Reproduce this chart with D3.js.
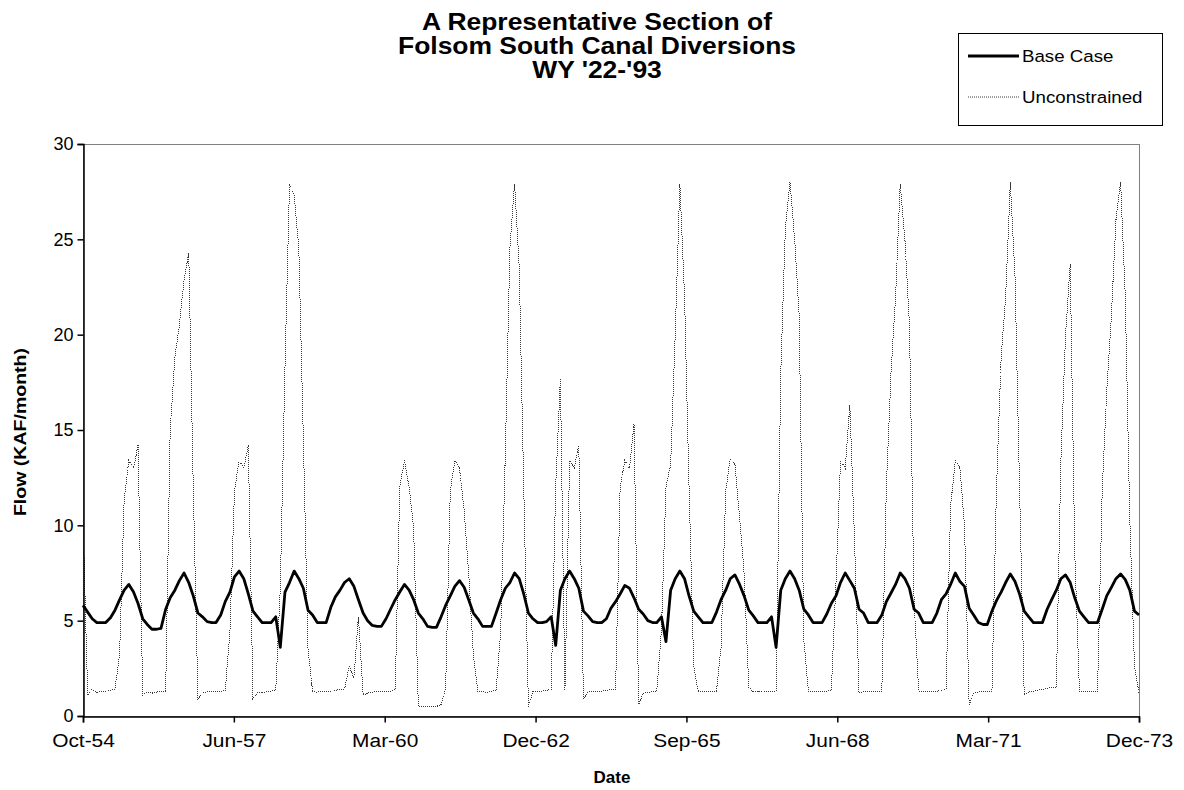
<!DOCTYPE html>
<html>
<head>
<meta charset="utf-8">
<script src="https://cdn.jsdelivr.net/npm/d3@7"></script>
<style>
  body { margin: 0; background: #fff; }
  svg { display: block; }
  text { font-family: "Liberation Sans", Arial, sans-serif; fill: #000; }
</style>
</head>
<body>
<svg id="chart" width="1184" height="790"></svg>
<script>
// Monthly series, Oct-54 through Dec-73 (one row per water year, Oct..Sep)
const firstMonth = new Date(1954, 9, 1);
const lastMonth = new Date(1973, 11, 1);

const baseCase = [
  5.8, 5.45, 5.1, 4.9, 4.9, 4.9, 5.15, 5.55, 6.1, 6.6, 6.9, 6.5,    // WY55
  5.9, 5.1, 4.8, 4.55, 4.55, 4.6, 5.6, 6.2, 6.6, 7.1, 7.5, 7.0,     // WY56
  6.3, 5.4, 5.2, 4.95, 4.9, 4.9, 5.3, 6.0, 6.5, 7.3, 7.6, 7.2,      // WY57
  6.4, 5.5, 5.2, 4.9, 4.9, 4.9, 5.2, 3.6, 6.5, 7.0, 7.6, 7.2,       // WY58
  6.7, 5.55, 5.3, 4.9, 4.9, 4.9, 5.7, 6.25, 6.6, 7.0, 7.2, 6.8,     // WY59
  6.1, 5.4, 5.0, 4.75, 4.7, 4.7, 5.1, 5.6, 6.1, 6.5, 6.9, 6.6,      // WY60
  6.1, 5.4, 5.1, 4.7, 4.65, 4.65, 5.2, 5.8, 6.3, 6.8, 7.1, 6.75,    // WY61
  6.1, 5.4, 5.1, 4.7, 4.7, 4.7, 5.4, 6.1, 6.7, 7.0, 7.5, 7.2,       // WY62
  6.4, 5.4, 5.1, 4.9, 4.9, 4.95, 5.2, 3.7, 6.6, 7.2, 7.6, 7.2,      // WY63
  6.7, 5.5, 5.25, 4.95, 4.9, 4.9, 5.1, 5.65, 6.0, 6.4, 6.85, 6.7,   // WY64
  6.2, 5.6, 5.35, 5.0, 4.9, 4.9, 5.2, 3.9, 6.6, 7.2, 7.6, 7.2,      // WY65
  6.3, 5.5, 5.2, 4.9, 4.9, 4.9, 5.45, 6.1, 6.6, 7.2, 7.4, 6.9,      // WY66
  6.3, 5.55, 5.25, 4.9, 4.9, 4.9, 5.2, 3.6, 6.6, 7.2, 7.6, 7.2,     // WY67
  6.6, 5.6, 5.3, 4.9, 4.9, 4.9, 5.35, 5.9, 6.3, 7.0, 7.5, 7.1,      // WY68
  6.7, 5.6, 5.4, 4.9, 4.9, 4.9, 5.3, 6.0, 6.45, 6.9, 7.5, 7.2,      // WY69
  6.7, 5.6, 5.4, 4.9, 4.9, 4.9, 5.4, 6.1, 6.4, 6.9, 7.5, 7.05,      // WY70
  6.8, 5.65, 5.3, 4.9, 4.8, 4.8, 5.5, 6.05, 6.5, 7.0, 7.45, 7.05,   // WY71
  6.4, 5.5, 5.2, 4.9, 4.9, 4.9, 5.6, 6.1, 6.6, 7.2, 7.4, 7.0,       // WY72
  6.2, 5.5, 5.2, 4.9, 4.9, 4.9, 5.6, 6.3, 6.75, 7.2, 7.45, 7.15,    // WY73
  6.6, 5.5, 5.3                                                    // WY74 (Oct-Dec)
];

const unconstrained = [
  10.3, 1.1, 1.4, 1.25, 1.3, 1.3, 1.35, 1.4, 3.3, 11.4, 13.4, 13.0,     // WY55
  14.2, 1.1, 1.25, 1.2, 1.25, 1.3, 1.3, 15.0, 18.8, 20.5, 22.9, 24.3,   // WY56
  12.0, 0.9, 1.2, 1.27, 1.3, 1.3, 1.3, 1.35, 4.4, 11.8, 13.4, 13.0,     // WY57
  14.2, 0.9, 1.25, 1.2, 1.3, 1.3, 1.35, 6.7, 18.3, 27.9, 27.3, 24.5,    // WY58
  14.5, 3.5, 1.3, 1.25, 1.3, 1.3, 1.3, 1.35, 1.4, 1.4, 2.6, 2.0,        // WY59
  5.2, 1.1, 1.2, 1.25, 1.3, 1.3, 1.3, 1.3, 1.4, 12.0, 13.4, 12.0,       // WY60
  9.9, 0.5, 0.5, 0.5, 0.5, 0.5, 0.6, 1.4, 11.8, 13.4, 13.0, 10.8,       // WY61
  7.5, 3.2, 1.27, 1.27, 1.25, 1.3, 1.35, 4.4, 13.8, 24.5, 27.9, 23.5,   // WY62
  12.0, 0.5, 1.27, 1.3, 1.3, 1.35, 1.4, 12.1, 17.7, 1.3, 13.4, 13.0,    // WY63
  14.2, 0.9, 1.25, 1.3, 1.3, 1.3, 1.35, 1.4, 1.4, 12.0, 13.4, 13.0,     // WY64
  15.3, 0.6, 1.2, 1.25, 1.27, 1.3, 4.5, 12.0, 13.2, 20.0, 27.9, 22.0,   // WY65
  12.0, 2.6, 1.27, 1.27, 1.3, 1.3, 1.3, 3.6, 11.8, 13.5, 13.2, 10.4,    // WY66
  7.5, 1.5, 1.27, 1.27, 1.3, 1.3, 1.3, 1.3, 18.0, 25.5, 28.0, 25.0,     // WY67
  21.0, 4.0, 1.3, 1.27, 1.27, 1.3, 1.3, 1.35, 7.0, 13.4, 13.0, 16.3,    // WY68
  9.5, 1.2, 1.27, 1.27, 1.3, 1.3, 1.3, 12.0, 18.0, 22.0, 27.9, 25.0,    // WY69
  20.5, 6.0, 1.3, 1.27, 1.27, 1.3, 1.3, 1.35, 1.4, 11.0, 13.4, 13.0,    // WY70
  10.0, 0.6, 1.2, 1.27, 1.27, 1.3, 1.3, 11.9, 18.8, 22.0, 28.0, 23.0,   // WY71
  12.0, 1.1, 1.27, 1.3, 1.35, 1.4, 1.45, 1.5, 1.5, 13.4, 20.0, 23.7,    // WY72
  8.6, 1.3, 1.27, 1.27, 1.3, 1.3, 11.8, 17.0, 21.0, 26.0, 28.0, 22.0,   // WY73
  10.3, 2.6, 1.2                                                        // WY74 (Oct-Dec)
];

const seriesNames = ["Base Case", "Unconstrained"];
const yTicks = [0, 5, 10, 15, 20, 25, 30];
const xTickLabels = ["Oct-54", "Jun-57", "Mar-60", "Dec-62", "Sep-65", "Jun-68", "Mar-71", "Dec-73"];
const titleLines = ["A Representative Section of", "Folsom South Canal Diversions", "WY '22-'93"];
const yAxisTitle = "Flow (KAF/month)";
const xAxisTitle = "Date";

const months = d3.timeMonth.range(firstMonth, d3.timeMonth.offset(lastMonth, 1));

const svg = d3.select("#chart");
svg.append("rect").attr("width", 1184).attr("height", 790).attr("fill", "#fff");

const plot = { left: 83, right: 1139, top: 144, bottom: 716 };

const x = d3.scaleTime().domain([firstMonth, lastMonth]).range([plot.left, plot.right]);
const y = d3.scaleLinear().domain([0, 30]).range([plot.bottom, plot.top]);

// plot-area frame
svg.append("rect")
  .attr("x", plot.left + 0.5).attr("y", plot.top + 0.5)
  .attr("width", plot.right - plot.left).attr("height", plot.bottom - plot.top)
  .attr("fill", "none").attr("stroke", "#808080").attr("stroke-width", 1);

// series
const line = d3.line()
  .x((d, i) => x(months[i]))
  .y(d => y(d));

const g = svg.append("g");
g.append("path")
  .datum(unconstrained)
  .attr("d", line)
  .attr("fill", "none")
  .attr("stroke", "#3a3a3a")
  .attr("stroke-width", 1)
  .attr("stroke-dasharray", "1,1")
  .attr("shape-rendering", "crispEdges");

g.append("path")
  .datum(baseCase)
  .attr("d", line)
  .attr("fill", "none")
  .attr("stroke", "#000")
  .attr("stroke-width", 2.8)
  .attr("stroke-linejoin", "round");

// y axis
const yAxis = d3.axisLeft(y).tickValues(yTicks).tickSize(6).tickPadding(4);
const ya = svg.append("g").attr("transform", `translate(${plot.left + 0.5},0)`).call(yAxis);
ya.select(".domain").attr("stroke", "#000").attr("stroke-width", 1.5);
ya.selectAll(".tick line").attr("stroke", "#000").attr("stroke-width", 1.5);
ya.selectAll(".tick text")
  .style("font-size", "18px")
  .style("font-family", "Liberation Sans, Arial, sans-serif");

// x axis
const span = lastMonth - firstMonth;
const xTickDates = xTickLabels.map((_, k) => new Date(+firstMonth + span * k / (xTickLabels.length - 1)));
const xAxis = d3.axisBottom(x)
  .tickValues(xTickDates)
  .tickFormat((d, i) => xTickLabels[i])
  .tickSize(6).tickPadding(11);
const xa = svg.append("g").attr("transform", `translate(0,${plot.bottom + 0.5})`).call(xAxis);
xa.select(".domain").attr("stroke", "#000").attr("stroke-width", 1.5);
xa.selectAll(".tick line").attr("stroke", "#000").attr("stroke-width", 1.5);
xa.selectAll(".tick text")
  .style("font-size", "19px")
  .style("font-family", "Liberation Sans, Arial, sans-serif")
  .attr("transform", "scale(1.1,1)");

// horizontally widened text helper
function wideText(parent, tx, ty, str, size, weight, sx, rotate) {
  const t = parent.append("g")
    .attr("transform", `translate(${tx},${ty})` + (rotate ? ` rotate(${rotate})` : "") + ` scale(${sx},1)`);
  return t.append("text")
    .attr("text-anchor", "middle")
    .style("font-size", size + "px")
    .style("font-weight", weight)
    .text(str);
}

// title
titleLines.forEach((s, i) => wideText(svg, 597, 30 + i * 24, s, 23, "bold", 1.15));

// axis titles
wideText(svg, 26, 432, yAxisTitle, 17, "bold", 1.15, -90);
wideText(svg, 612, 783, xAxisTitle, 17, "bold", 1.0);

// legend
const legend = svg.append("g").attr("transform", "translate(958,33)");
legend.append("rect")
  .attr("x", 0.5).attr("y", 0.5).attr("width", 204).attr("height", 92)
  .attr("fill", "#fff").attr("stroke", "#000").attr("stroke-width", 1);
const legendRows = legend.selectAll("g.row").data(seriesNames).join("g")
  .attr("class", "row")
  .attr("transform", (d, i) => `translate(0,${23 + i * 41})`);
legendRows.append("line")
  .attr("x1", 10).attr("x2", 61).attr("y1", 0).attr("y2", 0)
  .attr("stroke", (d, i) => i === 0 ? "#000" : "#3a3a3a")
  .attr("stroke-width", (d, i) => i === 0 ? 2.8 : 1)
  .attr("stroke-dasharray", (d, i) => i === 0 ? null : "1,1");
legendRows.append("g")
  .attr("transform", "translate(64,0) scale(1.1,1)")
  .append("text")
  .attr("dy", "0.35em")
  .style("font-size", "17px")
  .text(d => d);
</script>
</body>
</html>
